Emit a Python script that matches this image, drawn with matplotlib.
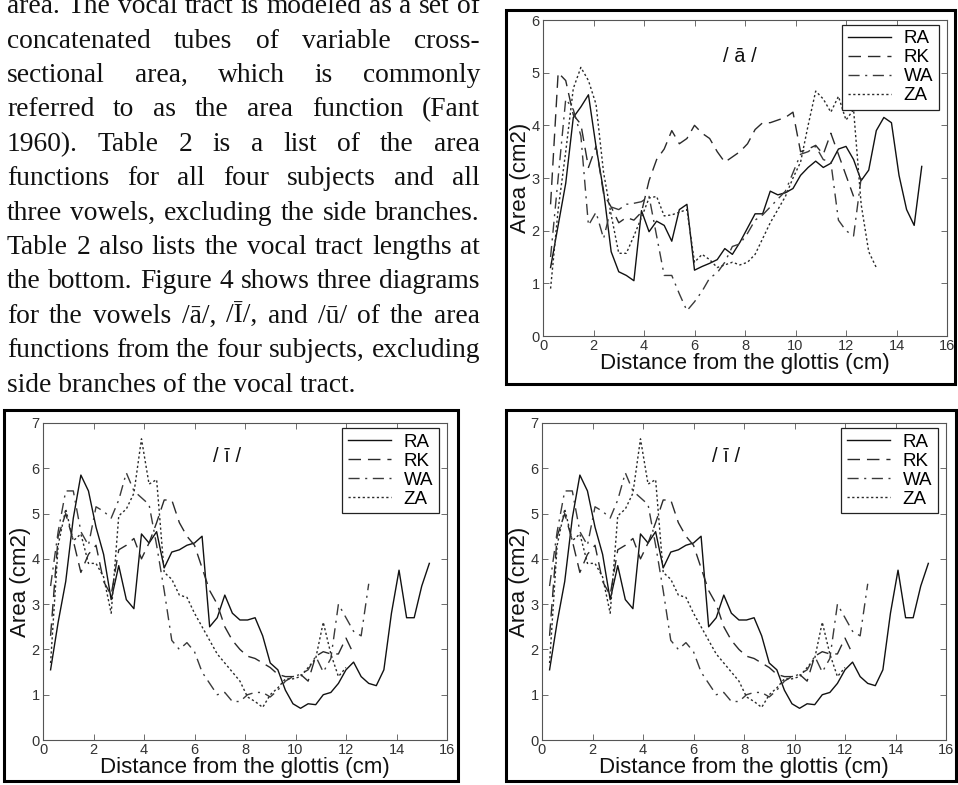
import matplotlib
matplotlib.use('Agg')
import matplotlib.pyplot as plt
from matplotlib.patches import Rectangle

# page text (justified paragraph, top-left)
page_lines = [
    "area. The vocal tract is modeled as a set of",
    "concatenated tubes of variable cross-",
    "sectional area, which is commonly",
    "referred to as the area function (Fant",
    "1960). Table 2 is a list of the area",
    "functions for all four subjects and all",
    "three vowels, excluding the side branches.",
    "Table 2 also lists the vocal tract lengths at",
    "the bottom. Figure 4 shows three diagrams",
    "for the vowels /\u0101/, /\u012a/, and /\u016b/ of the area",
    "functions from the four subjects, excluding",
    "side branches of the vocal tract.",
]

subjects = ["RA", "RK", "WA", "ZA"]

# distance from the glottis (cm), sample points
dist = [0.3, 0.6, 0.9, 1.2, 1.5, 1.8, 2.1, 2.4, 2.7, 3.0,
        3.3, 3.6, 3.9, 4.2, 4.5, 4.8, 5.1, 5.4, 5.7, 6.0,
        6.3, 6.6, 6.9, 7.2, 7.5, 7.8, 8.1, 8.4, 8.7, 9.0,
        9.3, 9.6, 9.9, 10.2, 10.5, 10.8, 11.1, 11.4, 11.7, 12.0,
        12.3, 12.6, 12.9, 13.2, 13.5, 13.8, 14.1, 14.4, 14.7, 15.0,
        15.3]

# vowel /a/ area functions (cm2)
a_RA = [1.30, 2.10, 2.90, 4.15, 4.35, 4.58, 3.60, 2.75, 1.60, 1.22,
        1.15, 1.05, 2.38, 1.98, 2.18, 2.10, 1.80, 2.40, 2.50, 1.25,
        1.32, 1.38, 1.45, 1.66, 1.55, 1.78, 2.05, 2.32, 2.32, 2.75,
        2.68, 2.72, 2.80, 3.05, 3.20, 3.32, 3.20, 3.28, 3.55, 3.60,
        3.35, 2.95, 3.15, 3.90, 4.15, 4.05, 3.05, 2.40, 2.10, 3.22]
a_RK = [2.50, 5.00, 4.85, 4.20, 4.02, 3.20, 3.60, 2.70, 2.45, 2.15,
        2.25, 2.20, 2.35, 2.95, 3.35, 3.55, 3.90, 3.65, 3.75, 4.00,
        3.85, 3.75, 3.50, 3.30, 3.40, 3.50, 3.65, 3.92, 4.05, 4.05,
        4.10, 4.15, 4.25, 3.50, 3.55, 3.62, 3.45, 3.85, 3.45, 3.05,
        2.65]
a_WA = [1.50, 3.00, 4.50, 4.30, 3.80, 2.10, 2.35, 1.85, 2.45, 2.40,
        2.50, 2.52, 2.55, 2.65, 1.90, 1.15, 1.15, 0.80, 0.48, 0.65,
        0.85, 1.10, 1.20, 1.40, 1.70, 1.75, 1.95, 2.20, 2.30, 2.45,
        2.60, 2.75, 3.10, 3.45, 3.50, 3.60, 3.35, 3.30, 2.20, 2.00,
        1.90, 3.00]
a_ZA = [0.90, 2.40, 3.50, 4.70, 5.10, 4.85, 4.40, 3.10, 2.30, 1.57,
        1.57, 1.90, 2.25, 2.62, 2.65, 2.28, 2.30, 2.35, 2.40, 1.40,
        1.55, 1.45, 1.30, 1.35, 1.40, 1.35, 1.40, 1.55, 1.85, 2.15,
        2.40, 2.65, 3.00, 3.30, 4.00, 4.65, 4.50, 4.25, 4.55, 4.10,
        4.30, 2.50, 1.60, 1.30]

# vowel /i/ area functions (cm2)
i_RA = [1.55, 2.60, 3.50, 4.90, 5.85, 5.50, 4.70, 4.10, 3.10, 3.85,
        3.10, 2.90, 4.55, 4.35, 4.60, 3.80, 4.15, 4.20, 4.30, 4.35,
        4.50, 2.50, 2.70, 3.20, 2.80, 2.65, 2.65, 2.70, 2.30, 1.70,
        1.55, 1.10, 0.80, 0.70, 0.80, 0.78, 1.00, 1.05, 1.25, 1.55,
        1.72, 1.40, 1.25, 1.20, 1.55, 2.80, 3.75, 2.70, 2.70, 3.40,
        3.90]
i_RK = [2.30, 4.50, 5.00, 4.40, 3.70, 4.10, 4.30, 3.50, 3.20, 4.20,
        4.30, 4.45, 4.00, 4.35, 4.80, 5.30, 5.30, 4.80, 4.50, 4.30,
        3.80, 3.30, 3.00, 2.50, 2.20, 2.00, 1.85, 1.80, 1.70, 1.60,
        1.45, 1.40, 1.40, 1.45, 1.30, 1.85, 1.95, 1.90, 1.90, 2.25,
        1.90]
i_WA = [3.40, 4.60, 5.50, 5.50, 4.60, 4.30, 5.15, 5.05, 4.90, 5.30,
        5.90, 5.50, 5.35, 5.20, 4.30, 3.30, 2.20, 2.00, 2.15, 1.95,
        1.50, 1.25, 1.00, 1.05, 0.85, 0.85, 1.00, 1.05, 1.05, 0.95,
        1.10, 1.30, 1.40, 1.45, 1.55, 1.85, 1.50, 1.80, 3.00, 2.70,
        2.40, 2.30, 3.45]
i_ZA = [1.70, 4.30, 5.10, 4.40, 4.55, 3.90, 3.90, 3.60, 2.80, 4.95,
        5.10, 5.45, 6.65, 5.65, 5.75, 3.70, 3.55, 3.20, 3.15, 2.80,
        2.50, 2.20, 1.90, 1.70, 1.50, 1.30, 0.95, 0.85, 0.72, 1.00,
        1.15, 1.35, 1.35, 1.40, 1.60, 1.80, 2.60, 1.90, 1.40, 1.60]

W_PX, H_PX = 958, 785

line_styles = {
    "RA": dict(color="#111111", linestyle="-"),
    "RK": dict(color="#2a2a2a", linestyle=(0, (9, 5))),
    "WA": dict(color="#3a3a3a", linestyle=(0, (8, 4, 1.5, 4))),
    "ZA": dict(color="#2a2a2a", linestyle=(0, (1.6, 1.8))),
}

fig = plt.figure(figsize=(W_PX / 100, H_PX / 100), dpi=100)
renderer = fig.canvas.get_renderer()
serif = "Liberation Serif"
sans = "Liberation Sans"


def fx(px):
    return px / W_PX


def fy(py):
    return 1 - py / H_PX


def text_width(s, size):
    t = fig.text(0, 0, s, family=serif, size=size)
    w = t.get_window_extent(renderer).width
    t.remove()
    return w


# paragraph, justified between x=7 and x=480
left, right = 7, 480
col_w = right - left
widest = max(text_width(s, 20) for s in page_lines[:-1])
size = 20 * col_w / widest
for i, line in enumerate(page_lines):
    base = 13.2 + 34.4 * i
    if i == len(page_lines) - 1:
        fig.text(fx(left), fy(base), line, family=serif, size=size,
                 va="baseline", ha="left", color="#111")
        continue
    words = line.split()
    widths = [text_width(w, size) for w in words]
    gap = (col_w - sum(widths)) / (len(words) - 1)
    x = left
    for w, wd in zip(words, widths):
        fig.text(fx(x), fy(base), w, family=serif, size=size,
                 va="baseline", ha="left", color="#111")
        x += wd + gap


def draw_panel(ax_px, frame_px, ymax, title, title_xy, data):
    l, t, r, b = ax_px
    ax = fig.add_axes([fx(l), fy(b), fx(r - l), (b - t) / H_PX])
    for name, ys in zip(subjects, data):
        ax.plot(dist[:len(ys)], ys, lw=1.0, label=name, **line_styles[name])
    ax.set_xlim(0, 16)
    ax.set_ylim(0, ymax)
    ax.set_xticks(range(0, 17, 2))
    ax.set_yticks(range(0, ymax + 1))
    ax.tick_params(direction="in", top=True, right=True, length=4,
                   width=0.6, color="#555", labelsize=10.5,
                   labelcolor="#333", pad=2.5)
    for tl in ax.get_xticklabels() + ax.get_yticklabels():
        tl.set_family(sans)
    for sp in ax.spines.values():
        sp.set_color("#555")
        sp.set_linewidth(0.8)
    ax.set_xlabel("Distance from the glottis (cm)", family=sans,
                  fontsize=16, color="#111", labelpad=0)
    ax.set_ylabel("Area (cm2)", family=sans, fontsize=16,
                  color="#111", labelpad=0)
    ax.text(title_xy[0], title_xy[1], title, family=sans, fontsize=14.5,
            ha="center", va="center", color="#111")
    leg = ax.legend(loc="upper right", bbox_to_anchor=(0.98, 0.985),
                    borderaxespad=0, fancybox=False, framealpha=1,
                    edgecolor="#222", handlelength=2.3, handletextpad=0.7,
                    labelspacing=0.1, borderpad=0.3,
                    prop={"family": sans, "size": 13.5})
    leg.get_frame().set_linewidth(0.9)
    fl, ft, fr, fb = frame_px
    fig.patches.append(Rectangle((fx(fl), fy(fb)), fx(fr - fl),
                                 (fb - ft) / H_PX, fill=False,
                                 lw=2.2, edgecolor="black",
                                 transform=fig.transFigure, figure=fig))
    return ax


draw_panel((543, 20, 947, 336), (505.5, 10, 955, 384), 6, "/ \u0101 /",
           (7.8, 5.3), [a_RA, a_RK, a_WA, a_ZA])
draw_panel((43, 423, 447, 740), (3.5, 410, 457.5, 780.5), 7, "/ \u012b /",
           (7.3, 6.25), [i_RA, i_RK, i_WA, i_ZA])
draw_panel((542, 423, 946, 740), (506, 410, 955.5, 780.5), 7, "/ \u012b /",
           (7.3, 6.25), [i_RA, i_RK, i_WA, i_ZA])

fig.savefig("out.png", dpi=100)
